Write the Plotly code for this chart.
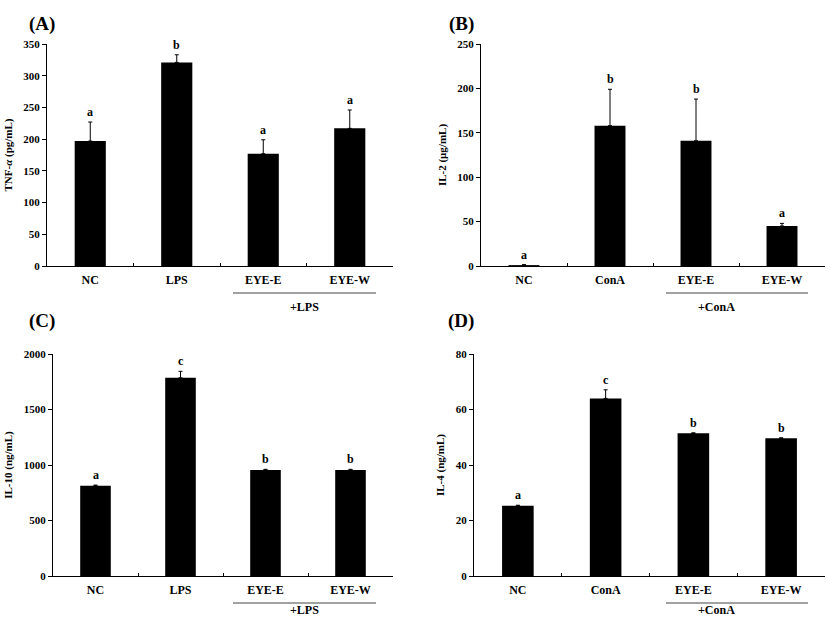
import plotly.graph_objects as go

cats_lps = ["NC", "LPS", "EYE-E", "EYE-W"]
cats_cona = ["NC", "ConA", "EYE-E", "EYE-W"]

tnf_vals = [197, 321, 177, 217]
tnf_err = [30, 12, 22, 29]
tnf_sig = ["a", "b", "a", "a"]

il2_vals = [1, 158, 141, 45]
il2_err = [0.5, 41, 47, 3]
il2_sig = ["a", "b", "b", "a"]

il10_vals = [813, 1786, 955, 955]
il10_err = [6, 58, 6, 6]
il10_sig = ["a", "c", "b", "b"]

il4_vals = [25.3, 64.0, 51.4, 49.6]
il4_err = [0.2, 3.1, 0.2, 0.2]
il4_sig = ["a", "c", "b", "b"]

FONT = "Liberation Serif"
W, H = 827, 620

panels = [
    dict(cats=cats_lps, vals=tnf_vals, err=tnf_err, sig=tnf_sig, ymax=350, dt=50,
         ytitle="TNF-<i>α</i> (pg/mL)", label="(A)", group="+LPS",
         x0=47, x1=393, ybot=266, ytop=44, lx=27, ly=11, ul=(233, 376), uly=293),
    dict(cats=cats_cona, vals=il2_vals, err=il2_err, sig=il2_sig, ymax=250, dt=50,
         ytitle="IL-2 (μg/mL)", label="(B)", group="+ConA",
         x0=481, x1=825, ybot=266, ytop=44, lx=461, ly=11, ul=(666, 808), uly=293),
    dict(cats=cats_lps, vals=il10_vals, err=il10_err, sig=il10_sig, ymax=2000, dt=500,
         ytitle="IL-10 (ng/mL)", label="(C)", group="+LPS",
         x0=53, x1=393, ybot=576, ytop=354, lx=27, ly=321, ul=(233, 376), uly=603),
    dict(cats=cats_cona, vals=il4_vals, err=il4_err, sig=il4_sig, ymax=80, dt=20,
         ytitle="IL-4 (ng/mL)", label="(D)", group="+ConA",
         x0=474, x1=825, ybot=576, ytop=354, lx=461, ly=321, ul=(666, 808), uly=603),
]

fig = go.Figure()
shapes = []
annotations = []

for i, p in enumerate(panels):
    n = "" if i == 0 else str(i + 1)
    xa, ya = "x" + n, "y" + n
    fig.add_trace(go.Bar(
        x=p["cats"], y=p["vals"], xaxis=xa, yaxis=ya, width=0.36,
        marker=dict(color="black", line=dict(width=0)),
        error_y=dict(type="data", symmetric=False, array=p["err"],
                     arrayminus=[0] * len(p["err"]), color="black",
                     thickness=1, width=2),
        showlegend=False, hoverinfo="skip",
    ))
    for c, v, e, s in zip(p["cats"], p["vals"], p["err"], p["sig"]):
        annotations.append(dict(x=c, y=v + e, xref=xa, yref=ya, text=f"<b>{s}</b>",
                                showarrow=False, yanchor="bottom", yshift=1,
                                font=dict(family=FONT, size=12, color="black")))
    xdom = [p["x0"] / W, p["x1"] / W]
    ydom = [1 - p["ybot"] / H, 1 - p["ytop"] / H]
    fig.layout["xaxis" + n] = dict(
        domain=xdom, anchor=ya, showline=True, linecolor="black", linewidth=1,
        ticks="inside", ticklen=3, tickson="boundaries", tickcolor="black",
        showgrid=False, tickfont=dict(family=FONT, size=12, color="black"),
        tickprefix="<b>", ticksuffix="</b>", fixedrange=True, automargin=False,
        ticklabelstandoff=3,
    )
    fig.layout["yaxis" + n] = dict(
        domain=ydom, anchor=xa, range=[0, p["ymax"]], dtick=p["dt"],
        showline=True, linecolor="black", linewidth=1, ticks="outside",
        ticklen=4, tickcolor="black", showgrid=False, zeroline=False,
        tickfont=dict(family=FONT, size=11, color="black"),
        tickprefix="<b>", ticksuffix="</b>", automargin=False, fixedrange=True,
        title=dict(text="<b>" + p["ytitle"] + "</b>",
                   font=dict(family=FONT, size=11, color="black"), standoff=8),
    )
    # group underline
    shapes.append(dict(type="line", xref="paper", yref="paper",
                       x0=p["ul"][0] / W, x1=p["ul"][1] / W,
                       y0=1 - p["uly"] / H, y1=1 - p["uly"] / H,
                       line=dict(color="#444444", width=1)))
    if p["uly"] + 22 > H:
        gy, ganchor = 1.5 / H, "bottom"
    else:
        gy, ganchor = 1 - (p["uly"] + 5) / H, "top"
    annotations.append(dict(x=(p["ul"][0] + p["ul"][1]) / 2 / W,
                            y=gy, xref="paper", yref="paper",
                            yanchor=ganchor,
                            text="<b>" + p["group"] + "</b>", showarrow=False,
                            font=dict(family=FONT, size=12, color="black")))
    annotations.append(dict(x=p["lx"] / W, y=1 - p["ly"] / H, xref="paper",
                            yref="paper", text="<b>" + p["label"] + "</b>",
                            showarrow=False,
                            font=dict(family=FONT, size=19, color="black")))

fig.update_layout(
    width=W, height=H, margin=dict(l=0, r=0, t=0, b=0, autoexpand=False),
    paper_bgcolor="white", plot_bgcolor="white",
    shapes=shapes, annotations=annotations, bargap=0.64,
)
fig.write_html(
    "out.html",
    config={"displayModeBar": False, "staticPlot": True},
    post_script="document.body.style.margin='0';document.body.style.overflow='hidden';",
)
